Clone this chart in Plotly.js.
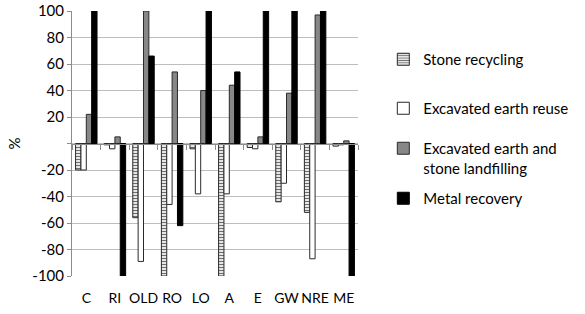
<!DOCTYPE html>
<html>
<head>
<meta charset="utf-8">
<script src="https://cdn.plot.ly/plotly-3.0.1.min.js"></script>
<style>html,body{margin:0;padding:0;background:#fff;}#chart{width:585px;height:314px;}</style>
</head>
<body>
<div id="chart"></div>
<script>
const categories = ['C','RI','OLD','RO','LO','A','E','GW','NRE','ME'];
const stoneRecycling = [-20, -1, -56, -100, -4, -100, -3, -44, -52, -2];
const earthReuse = [-20, -4, -89, -46, -38, -38, -4, -30, -87, -1];
const landfilling = [22, 5, 100, 54, 40, 44, 5, 38, 97, 2];
const metalRecovery = [100, -100, 66, -62, 100, 54, 100, 100, 100, -100];
const seriesNames = ['Stone recycling', 'Excavated earth reuse', 'Excavated earth and<br>stone landfilling', 'Metal recovery'];
const yTicks = [-100, -80, -60, -40, -20, 0, 20, 40, 60, 80, 100];
const yTickText = yTicks.map(v => v === 0 ? '' : String(v));
const boundaryTicks = [-0.5, 0.5, 1.5, 2.5, 3.5, 4.5, 5.5, 6.5, 7.5, 8.5, 9.5];

const FONT = 'Lato, "Open Sans", sans-serif';
const lineStyle = {color: '#2a2a2a', width: 1};

const traces = [
  {type: 'bar', name: seriesNames[0], x: categories, y: stoneRecycling, legend: 'legend',
   marker: {color: 'white', line: lineStyle,
            pattern: {shape: '-', fgcolor: '#6e6e6e', bgcolor: '#ffffff', size: 3, solidity: 0.45}}},
  {type: 'bar', name: seriesNames[1], x: categories, y: earthReuse, legend: 'legend2',
   marker: {color: '#ffffff', line: lineStyle}},
  {type: 'bar', name: seriesNames[2], x: categories, y: landfilling, legend: 'legend3',
   marker: {color: '#878787', line: lineStyle}},
  {type: 'bar', name: seriesNames[3], x: categories, y: metalRecovery, legend: 'legend4',
   marker: {color: '#000000', line: {color: '#000000', width: 1}}}
];

function legendAt(topPx) {
  return {x: (404 - 72) / 305, xanchor: 'left', y: 1 - (topPx - 11) / 265, yanchor: 'top',
          font: {family: FONT, size: 15, color: '#000'}, bgcolor: 'rgba(0,0,0,0)',
          itemwidth: 30, valign: 'top'};
}

const layout = {
  width: 585, height: 314,
  margin: {l: 72, r: 208, t: 11, b: 38},
  paper_bgcolor: '#ffffff', plot_bgcolor: '#ffffff',
  font: {family: FONT, size: 14, color: '#000000'},
  barmode: 'group', bargap: 0.25, bargroupgap: 0,
  showlegend: true,
  legend: legendAt(43),
  legend2: legendAt(92),
  legend3: legendAt(132),
  legend4: legendAt(182),
  xaxis: {type: 'category', showgrid: false, showline: false, zeroline: false, ticks: '',
          tickangle: 0, ticklabelstandoff: 12,
          tickfont: {family: FONT, size: 14, color: '#000'}, fixedrange: true},
  xaxis2: {overlaying: 'x', anchor: 'free', position: 0.5, type: 'linear', range: [-0.5, 9.5],
           tickvals: boundaryTicks, showticklabels: false, ticks: 'outside', ticklen: 5,
           tickcolor: '#8c8c8c', showline: true, linecolor: '#8c8c8c', linewidth: 1,
           showgrid: false, zeroline: false, side: 'bottom'},
  yaxis: {range: [-100, 100], tickvals: yTicks, ticktext: yTickText, showgrid: true,
          gridcolor: '#bdbdbd', gridwidth: 1, zeroline: false, showline: true, linecolor: '#8c8c8c',
          ticks: 'outside', ticklen: 4, tickcolor: '#8c8c8c',
          tickfont: {family: FONT, size: 15, color: '#000'},
          title: {text: '%', font: {family: FONT, size: 15, color: '#000'}, standoff: 8}}
};

// empty helper trace so the zero-line axis (xaxis2) is rendered
traces.push({type: 'scatter', x: [], y: [], xaxis: 'x2', yaxis: 'y', showlegend: false, hoverinfo: 'skip'});

Plotly.newPlot('chart', traces, layout, {displayModeBar: false, staticPlot: true});
</script>
</body>
</html>
